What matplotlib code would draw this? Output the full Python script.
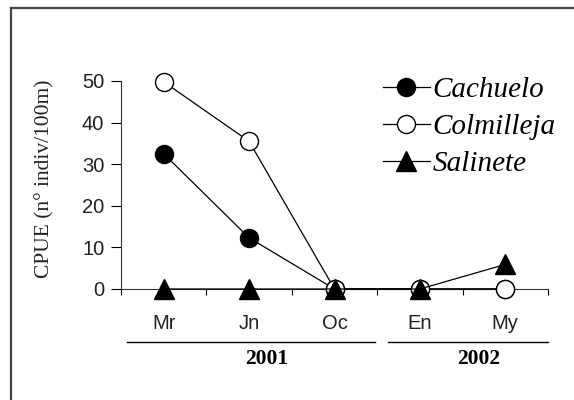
import matplotlib
matplotlib.use("Agg")
import matplotlib.pyplot as plt
from matplotlib.lines import Line2D
import numpy as np

months = ["Mr", "Jn", "Oc", "En", "My"]
years = ["2001", "2002"]
cachuelo = [32.5, 12.3, 0, 0, 0]
colmilleja = [49.8, 35.5, 0, 0, 0]
salinete = [0, 0, 0, 0, 5.9]
yticks = [0, 10, 20, 30, 40, 50]

fig = plt.figure(figsize=(5.74, 4.0), dpi=100)
ax = fig.add_axes([121/574, 1-289/400, (548-121)/574, (289-81)/400])

x = np.arange(len(months))
ax.plot(x, cachuelo, color="black", lw=0.9, marker="o", ms=13, mfc="black",
        mec="black", clip_on=False, zorder=3, label="Cachuelo")
ax.plot(x, colmilleja, color="black", lw=0.9, marker="o", ms=13, mfc="white",
        mec="black", mew=1.0, clip_on=False, zorder=4, label="Colmilleja")
ax.plot(x, salinete, color="black", lw=0.9, marker="^", ms=14, mfc="black",
        mec="black", clip_on=False, zorder=5, label="Salinete")

ax.set_xlim(-0.5, len(months) - 0.5)
ax.set_ylim(0, 50)
ax.set_yticks(yticks)
ax.set_xticks(x)
ax.set_xticklabels(months, fontsize=14.5, family="Liberation Sans", color="#222222")
ax.set_xticks(np.arange(-0.5, len(months), 1.0), minor=True)
ax.tick_params(axis="x", which="major", length=0, pad=18)
ax.tick_params(axis="x", which="minor", length=4, width=0.8, direction="out")
ax.tick_params(axis="y", length=7, width=0.8, labelsize=14.5, pad=5, labelcolor="#222222")
for lab in ax.get_yticklabels():
    lab.set_family("Liberation Sans")
for s in ["top", "right"]:
    ax.spines[s].set_visible(False)
for s in ["left", "bottom"]:
    ax.spines[s].set_linewidth(0.8)
    ax.spines[s].set_color("#333333")
ax.set_ylabel("CPUE (n° indiv/100m)", family="Liberation Serif", fontsize=15.5,
              color="#222222")
ax.yaxis.set_label_coords(-0.155, 0.53)

# year groups
fig.add_artist(Line2D([127/574, 375/574], [1-342/400, 1-342/400], color="black", lw=1.0))
fig.add_artist(Line2D([388/574, 548/574], [1-342/400, 1-342/400], color="black", lw=1.0))
fig.text(267/574, 1-359/400, years[0], ha="center", va="center", family="Liberation Serif",
         fontweight="bold", fontsize=15.5)
fig.text(479/574, 1-359/400, years[1], ha="center", va="center", family="Liberation Serif",
         fontweight="bold", fontsize=15.5)

# frame
fig.add_artist(Line2D([10.5/574, 10.5/574], [0, 1-7.5/400], color="#444444", lw=1.6))
fig.add_artist(Line2D([10.5/574, 1], [1-7.5/400, 1-7.5/400], color="#444444", lw=1.6))

leg = fig.legend(loc="upper left", bbox_to_anchor=(383/574, 1-77/400), frameon=False,
                 prop={"family": "Liberation Serif", "style": "italic", "size": 21},
                 handlelength=1.6, handletextpad=0.1, labelspacing=0.36,
                 borderaxespad=0, borderpad=0)

fig.savefig("out.png", dpi=100)
